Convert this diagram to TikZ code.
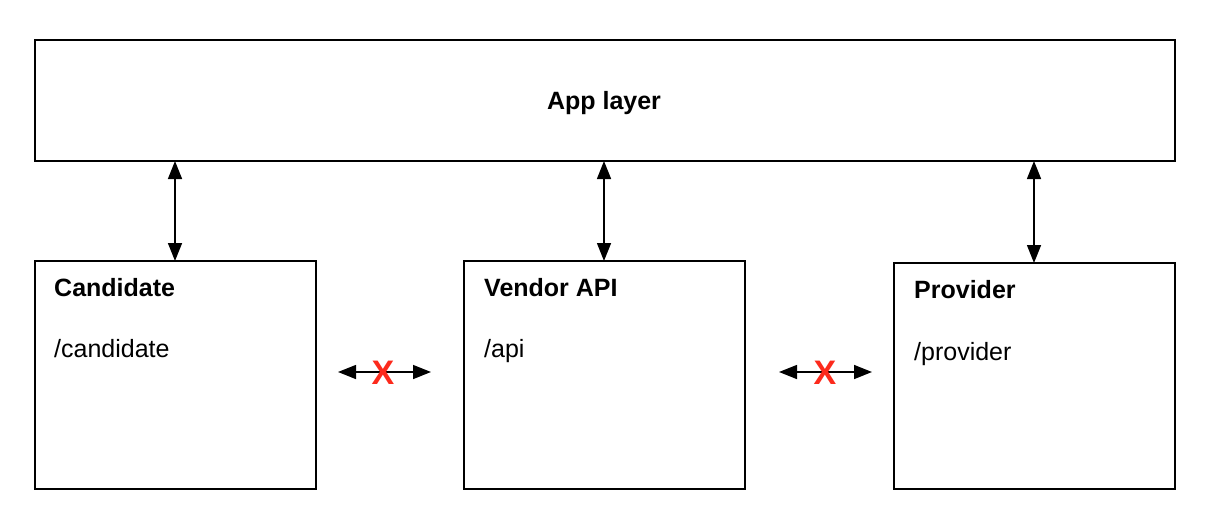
\documentclass[tikz,border=0pt]{standalone}
\usepackage{fontspec}
\setmainfont{Liberation Sans}
\usetikzlibrary{arrows.meta}
\begin{document}
\begin{tikzpicture}[x=1pt,y=-1pt,
  box/.style={draw,line width=1.6pt,minimum width=0pt},
  lbl/.style={anchor=base west,inner sep=0pt,font=\fontsize{25}{29}\selectfont},
  blbl/.style={lbl,font=\fontsize{25}{29}\selectfont\bfseries},
  conn/.style={line width=1.5pt,{Triangle[length=18pt,width=14pt]}-{Triangle[length=18pt,width=14pt]}},
  cross/.style={text=xred,inner sep=0pt,font=\fontsize{34}{38}\selectfont\bfseries}]
\definecolor{xred}{RGB}{252,42,28}
\useasboundingbox (0,0) rectangle (1212,530);
\draw[box] (35,40) rectangle (1175,161);
\coordinate (appC) at (175,161);
\coordinate (appV) at (604,161);
\coordinate (appP) at (1034,161);
\node[blbl,anchor=base] (app) at (604,109) {App layer};
\draw[box] (35,261) rectangle (316,489);
\draw[box] (464,261) rectangle (745,489);
\draw[box] (894,263) rectangle (1175,489);
\coordinate (candT) at (175,261);
\coordinate (vendT) at (604,261);
\coordinate (provT) at (1034,263);
\node[blbl] (cand) at (54,296) {Candidate};
\node[lbl] (candp) at (54,357) {/candidate};
\node[blbl] (vend) at (484,296) {Vendor API};
\node[lbl] (vendp) at (484,357) {/api};
\node[blbl] (prov) at (914,298) {Provider};
\node[lbl] (provp) at (914,360) {/provider};
\draw[conn] (appC) -- (candT);
\draw[conn] (appV) -- (vendT);
\draw[conn] (appP) -- (provT);
\coordinate (a1) at (338,372);
\coordinate (b1) at (431,372);
\coordinate (a2) at (779,372);
\coordinate (b2) at (872,372);
\draw[conn] (a1) -- (b1);
\draw[conn] (a2) -- (b2);
\node[cross] (x1) at (383,373) {X};
\node[cross] (x2) at (825,373) {X};
\end{tikzpicture}
\end{document}
